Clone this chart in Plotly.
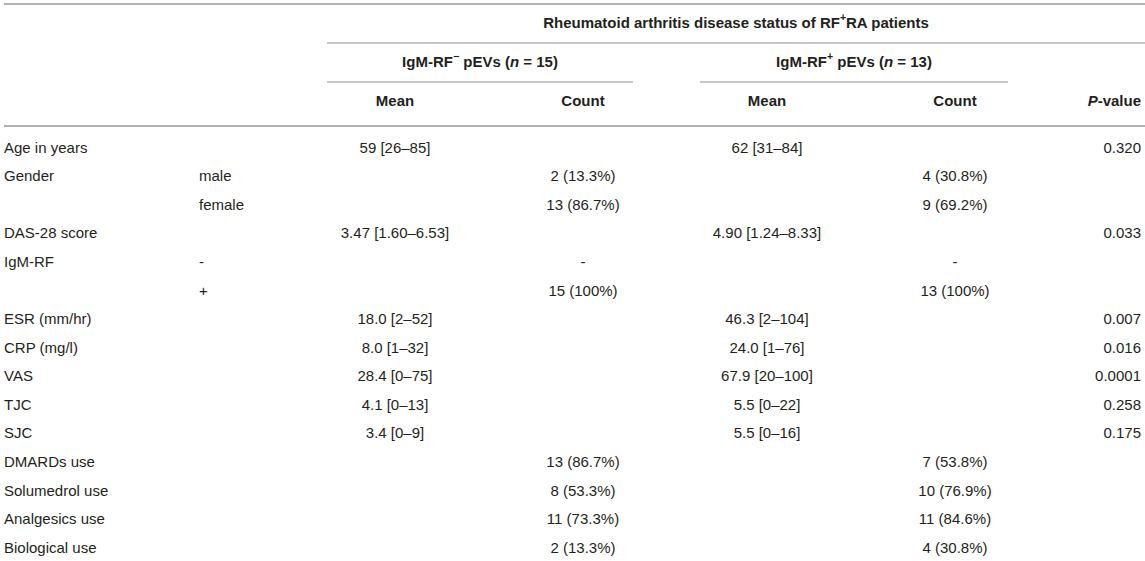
import plotly.graph_objects as go

# table body, one entry per row
row_labels = ["Age in years", "Gender", "", "DAS-28 score", "IgM-RF", "",
              "ESR (mm/hr)", "CRP (mg/l)", "VAS", "TJC", "SJC",
              "DMARDs use", "Solumedrol use", "Analgesics use", "Biological use"]
sub_labels = ["", "male", "female", "", "-", "+", "", "", "", "", "", "", "", "", ""]
neg_mean = ["59 [26–85]", "", "", "3.47 [1.60–6.53]", "", "", "18.0 [2–52]",
            "8.0 [1–32]", "28.4 [0–75]", "4.1 [0–13]", "3.4 [0–9]", "", "", "", ""]
neg_count = ["", "2 (13.3%)", "13 (86.7%)", "", "-", "15 (100%)", "", "", "", "", "",
             "13 (86.7%)", "8 (53.3%)", "11 (73.3%)", "2 (13.3%)"]
pos_mean = ["62 [31–84]", "", "", "4.90 [1.24–8.33]", "", "", "46.3 [2–104]",
            "24.0 [1–76]", "67.9 [20–100]", "5.5 [0–22]", "5.5 [0–16]", "", "", "", ""]
pos_count = ["", "4 (30.8%)", "9 (69.2%)", "", "-", "13 (100%)", "", "", "", "", "",
             "7 (53.8%)", "10 (76.9%)", "11 (84.6%)", "4 (30.8%)"]
p_values = ["0.320", "", "", "0.033", "", "", "0.007", "0.016", "0.0001", "0.258", "0.175",
            "", "", "", ""]

title_text = "Rheumatoid arthritis disease status of RF<sup>+</sup>RA patients"
group_labels = ["IgM-RF<sup>−</sup> pEVs (<i>n</i> = 15)", "IgM-RF<sup>+</sup> pEVs (<i>n</i> = 13)"]
sub_headers = ["Mean", "Count", "Mean", "Count", "<i>P</i>-value"]

# layout (pixels for x, row units for y)
W, H = 1145, 561
ROW0, ROW_H = 149, 28.57
X_LABEL, X_SUB = 4, 199
X_COLS = [395, 583, 767, 955]
X_P = 1141
GROUP_SPANS = [(327, 633), (700, 1008)]
TEXT = "#231f20"
LINE = "#b3b3b3"
FONT = "Liberation Sans, Arial, sans-serif"


def to_row(px):
    return (px - ROW0) / ROW_H


fig = go.Figure()


def add_text(x, y, text, pos, bold=False):
    cells = [(xi, yi, t) for xi, yi, t in zip(x, y, text) if t]
    if bold:
        cells = [(xi, yi, f"<b>{t}</b>") for xi, yi, t in cells]
    fig.add_trace(go.Scatter(
        x=[c[0] for c in cells], y=[c[1] for c in cells], text=[c[2] for c in cells],
        mode="text", textposition=pos,
        textfont=dict(family=FONT, size=15, color=TEXT),
        hoverinfo="skip", cliponaxis=False,
    ))


def column(xc, values, pos):
    add_text([xc] * len(values), list(range(len(values))), values, pos)


column(X_LABEL, row_labels, "middle right")
column(X_SUB, sub_labels, "middle right")
for xc, col in zip(X_COLS, [neg_mean, neg_count, pos_mean, pos_count]):
    column(xc, col, "middle center")
column(X_P, p_values, "middle left")

# header rows
add_text([(GROUP_SPANS[0][0] + W) / 2], [to_row(24)], [title_text], "middle center", bold=True)
add_text([(a + b) / 2 for a, b in GROUP_SPANS], [to_row(63)] * 2, group_labels,
         "middle center", bold=True)
add_text(X_COLS, [to_row(102)] * 4, sub_headers[:4], "middle center", bold=True)
add_text([X_P], [to_row(102)], sub_headers[4:], "middle left", bold=True)


def hline(x0, x1, ypx, width=1.6):
    fig.add_shape(type="line", x0=x0, x1=x1, y0=to_row(ypx), y1=to_row(ypx),
                  xref="x", yref="y", line=dict(color=LINE, width=width))


hline(4, W, 4, 2)
hline(GROUP_SPANS[0][0], W, 43)
for a, b in GROUP_SPANS:
    hline(a, b, 82)
hline(4, W, 126, 2)

fig.update_layout(
    width=W, height=H,
    margin=dict(l=0, r=0, t=0, b=0),
    paper_bgcolor="white", plot_bgcolor="white",
    showlegend=False,
    xaxis=dict(range=[0, W], visible=False, fixedrange=True),
    yaxis=dict(range=[to_row(H), to_row(0)], visible=False, fixedrange=True),
)

# page body has a default 8px margin, drop it so the table sits at the window edge
fig.write_html("out.html", config={"displayModeBar": False},
               post_script="document.body.style.margin='0';")
